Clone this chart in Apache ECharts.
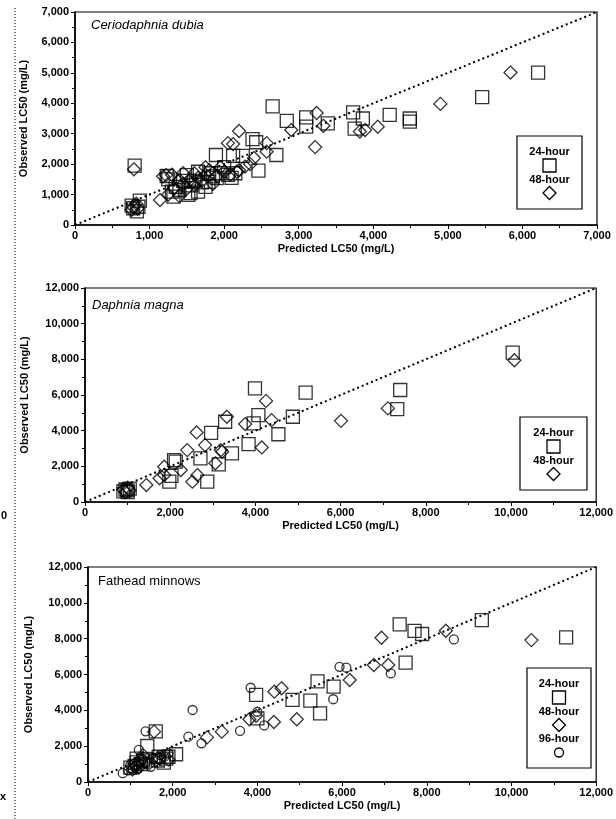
<!DOCTYPE html>
<html><head><meta charset="utf-8">
<script src="https://cdn.jsdelivr.net/npm/echarts@6/dist/echarts.min.js"></script>
<style>html,body{margin:0;padding:0;background:#fff}#c{width:616px;height:819px}</style>
</head><body><div id="c"></div>
<script>
// ---- Panel 1: Ceriodaphnia dubia ----
const cdTitle = 'Ceriodaphnia dubia';
const cd24 = [[800,1950],[830,450],[760,640],[870,800],[780,550],[850,600],[1230,1610],[1250,1500],[1300,1100],[1320,930],[1350,1250],[1400,1150],[1450,1450],[1500,1640],[1520,990],[1550,1050],[1560,1300],[1600,1450],[1650,1750],[1650,1100],[1700,1400],[1750,1250],[1790,1420],[1800,1700],[1850,1600],[1890,2300],[1900,1540],[1950,1700],[2000,1900],[2050,1650],[2120,2270],[2100,1550],[2150,1700],[2250,2270],[2380,2820],[2430,2720],[2460,1790],[2650,3900],[2700,2300],[2840,3420],[3100,3540],[3100,3230],[3390,3340],[3730,3700],[3750,3170],[3860,3500],[4220,3620],[4490,3500],[4490,3400],[5460,4200],[6210,5010]];
const cd48 = [[790,1830],[780,600],[820,700],[760,500],[840,540],[1140,820],[1180,1600],[1220,1640],[1250,1000],[1300,1650],[1320,1200],[1400,1480],[1400,950],[1450,1350],[1450,1700],[1500,1200],[1550,1500],[1600,1700],[1600,1300],[1650,1550],[1700,1450],[1750,1650],[1750,1900],[1800,1800],[1850,1350],[1900,1600],[1950,1900],[2000,1750],[2050,2690],[2080,1650],[2120,2660],[2170,1750],[2200,3090],[2200,1800],[2280,1920],[2350,2000],[2400,2200],[2570,2690],[2570,2410],[2900,3120],[3220,2560],[3240,3680],[3330,3260],[3820,3070],[3890,3120],[4060,3230],[4900,3980],[5840,5010]];
// ---- Panel 2: Daphnia magna ----
const dmTitle = 'Daphnia magna';
const dm24 = [[900,600],[950,700],[1000,650],[1050,750],[1000,550],[1980,1140],[2030,1460],[2090,2350],[2130,2260],[2710,2450],[2870,1140],[2960,3880],[3140,2110],[3290,4500],[3450,2730],[3840,3250],[3960,4410],[3990,6370],[4070,4870],[4540,3800],[4880,4780],[5180,6130],[7330,5210],[7400,6280],[10040,8380]];
const dm48 = [[900,700],[950,550],[1050,650],[1000,800],[1440,950],[1750,1330],[1860,1980],[1860,1510],[2250,1790],[2400,2910],[2520,1140],[2620,3900],[2640,1510],[2820,3190],[3060,2170],[3190,2910],[3220,2820],[3330,4780],[3760,4370],[4150,3060],[4250,5670],[4380,4590],[6010,4550],[7110,5250],[10080,7950]];
// ---- Panel 3: Fathead minnows ----
const fmTitle = 'Fathead minnows';
const fm24 = [[1000,800],[1100,900],[1150,1100],[1150,1300],[1250,1000],[1300,1200],[1400,2010],[1600,2830],[1650,1200],[1670,1410],[1790,1080],[1850,1300],[1900,1410],[2080,1550],[3970,4860],[4000,3550],[4830,4580],[5250,4540],[5420,5620],[5480,3830],[5800,5320],[7360,8800],[7500,6660],[7710,8440],[7890,8260],[9300,9040],[11290,8070]];
const fm48 = [[1050,700],[1100,1000],[1150,950],[1200,800],[1250,1200],[1300,1500],[1350,1100],[1450,1050],[1560,2810],[1600,1200],[1700,1300],[1900,1250],[2810,2490],[3160,2810],[3810,3500],[3970,3700],[4390,3350],[4400,5040],[4570,5230],[4930,3500],[6180,5690],[6750,6530],[6930,8050],[7090,6530],[8450,8440],[10470,7920]];
const fm96 = [[820,490],[950,650],[1000,950],[1050,750],[1100,850],[1150,700],[1200,1790],[1250,1100],[1300,1250],[1360,2830],[1480,850],[1550,1350],[1650,1300],[1700,1500],[1800,1400],[1900,1600],[2370,2530],[2470,4020],[2680,2160],[3590,2850],[3840,5260],[4000,3920],[4160,3160],[5790,4620],[5940,6430],[6100,6380],[7150,6060],[8640,7960]];
// axis ranges
const axMax = [7000, 12000, 12000];
const axInt = [1000, 2000, 2000];
const legendNames = ['24-hour','48-hour','96-hour'];
const xTitle = 'Predicted LC50 (mg/L)';
const yTitle = 'Observed LC50 (mg/L)';

const FONT = '"Liberation Sans", Arial, sans-serif';
const grids = [
  {left:75, top:12, width:522, height:213},
  {left:85, top:288, width:515, height:214},
  {left:88, top:567, width:514, height:215}
];
const yNameGap = [46, 55, 54];
const fmt = v => v.toLocaleString('en-US');

const xAxes = [], yAxes = [];
for (let i=0;i<3;i++){
  const common = (isX)=>({
    type:'value', gridIndex:i, min:0, max:axMax[i], interval:axInt[i],
    axisLine:{show:true, lineStyle:{color:'#000', width:1.6}},
    axisTick:{show:true, inside:false, length:4, lineStyle:{color:'#000', width:1}},
    minorTick:{show:true, splitNumber:2, length:3, lineStyle:{color:'#000', width:1}},
    splitLine:{show:false},
    axisLabel:{color:'#000', fontFamily:FONT, fontWeight:'bold', fontSize:11, formatter:fmt, margin: isX?5:6},
    nameLocation:'middle',
    nameTextStyle:{color:'#000', fontFamily:FONT, fontWeight:'bold', fontSize:11}
  });
  xAxes.push(Object.assign(common(true), {name:xTitle, nameGap:18}));
  yAxes.push(Object.assign(common(false), {name:yTitle, nameGap:yNameGap[i]}));
}

const mk = (name, data, gi, symbol, size) => ({
  type:'scatter', name, data, xAxisIndex:gi, yAxisIndex:gi, symbol, symbolSize:size,
  itemStyle:{color:'rgba(0,0,0,0)', borderColor:'#000', borderWidth:1.3},
  emphasis:{disabled:true}, silent:true, z:3
});
const line = (gi) => ({
  type:'line', xAxisIndex:gi, yAxisIndex:gi, data:[[0,0],[axMax[gi],axMax[gi]]],
  showSymbol:false, symbol:'none', silent:true, z:2,
  lineStyle:{color:'#000', type:[2,3], width:2}
});

const series = [
  line(0), mk('24-hour', cd24, 0, 'rect', 13), mk('48-hour', cd48, 0, 'diamond', 13),
  line(1), mk('24-hour', dm24, 1, 'rect', 13), mk('48-hour', dm48, 1, 'diamond', 13),
  line(2), mk('24-hour', fm24, 2, 'rect', 13), mk('48-hour', fm48, 2, 'diamond', 13), mk('96-hour', fm96, 2, 'circle', 9)
];

// legend boxes (drawn as graphics, text above symbol)
function legendBox(x, y, w, h, n){
  const ch = [{type:'rect', shape:{x:0,y:0,width:w,height:h}, style:{fill:'#fff', stroke:'#000', lineWidth:1.2}}];
  const step = 27.5;
  for (let k=0;k<n;k++){
    const ty = 16 + k*step;
    ch.push({type:'text', x:w/2, y:ty, style:{text:legendNames[k], fontFamily:FONT, fontSize:11, fontWeight:'bold', fill:'#000', align:'center', verticalAlign:'middle'}});
    const sy = ty + 13.5, cx = w/2;
    if (k===0) ch.push({type:'rect', shape:{x:cx-6.5,y:sy-6.5,width:13,height:13}, style:{fill:'none', stroke:'#000', lineWidth:1.3}});
    if (k===1) ch.push({type:'polygon', shape:{points:[[cx,sy-6.5],[cx+6.5,sy],[cx,sy+6.5],[cx-6.5,sy]]}, style:{fill:'none', stroke:'#000', lineWidth:1.3}});
    if (k===2) ch.push({type:'circle', shape:{cx:cx,cy:sy,r:4.5}, style:{fill:'none', stroke:'#000', lineWidth:1.3}});
  }
  return {type:'group', x, y, children:ch, z:10};
}
const titleTxt = (x,y,t,italic)=>({type:'text', x, y, style:{text:t, fontFamily:FONT, fontSize:13, fontStyle:italic?'italic':'normal', fill:'#000', verticalAlign:'middle'}, z:10});

const graphic = [
  titleTxt(91, 25, cdTitle, true),
  titleTxt(92, 305, dmTitle, true),
  titleTxt(98, 581, fmTitle, false),
  legendBox(517, 136, 65, 73, 2),
  legendBox(520, 417, 67, 73, 2),
  legendBox(527, 668, 64, 100, 3),
  {type:'line', shape:{x1:15,y1:8,x2:15,y2:819}, style:{stroke:'#000', lineWidth:1, lineDash:[1,2]}},
  {type:'text', x:1, y:516, style:{text:'0', fontFamily:FONT, fontSize:11, fontWeight:'bold', fill:'#000', verticalAlign:'middle'}},
  {type:'text', x:0, y:797, style:{text:'x', fontFamily:FONT, fontSize:11, fontWeight:'bold', fill:'#000', verticalAlign:'middle'}}
];

const chart = echarts.init(document.getElementById('c'), null, {renderer:'canvas'});
chart.setOption({
  animation:false,
  backgroundColor:'#fff',
  grid: grids.map(g=>Object.assign({show:true, borderColor:'#000', borderWidth:1.2, backgroundColor:'rgba(0,0,0,0)', containLabel:false}, g)),
  xAxis:xAxes, yAxis:yAxes, series, graphic
});
</script></body></html>
